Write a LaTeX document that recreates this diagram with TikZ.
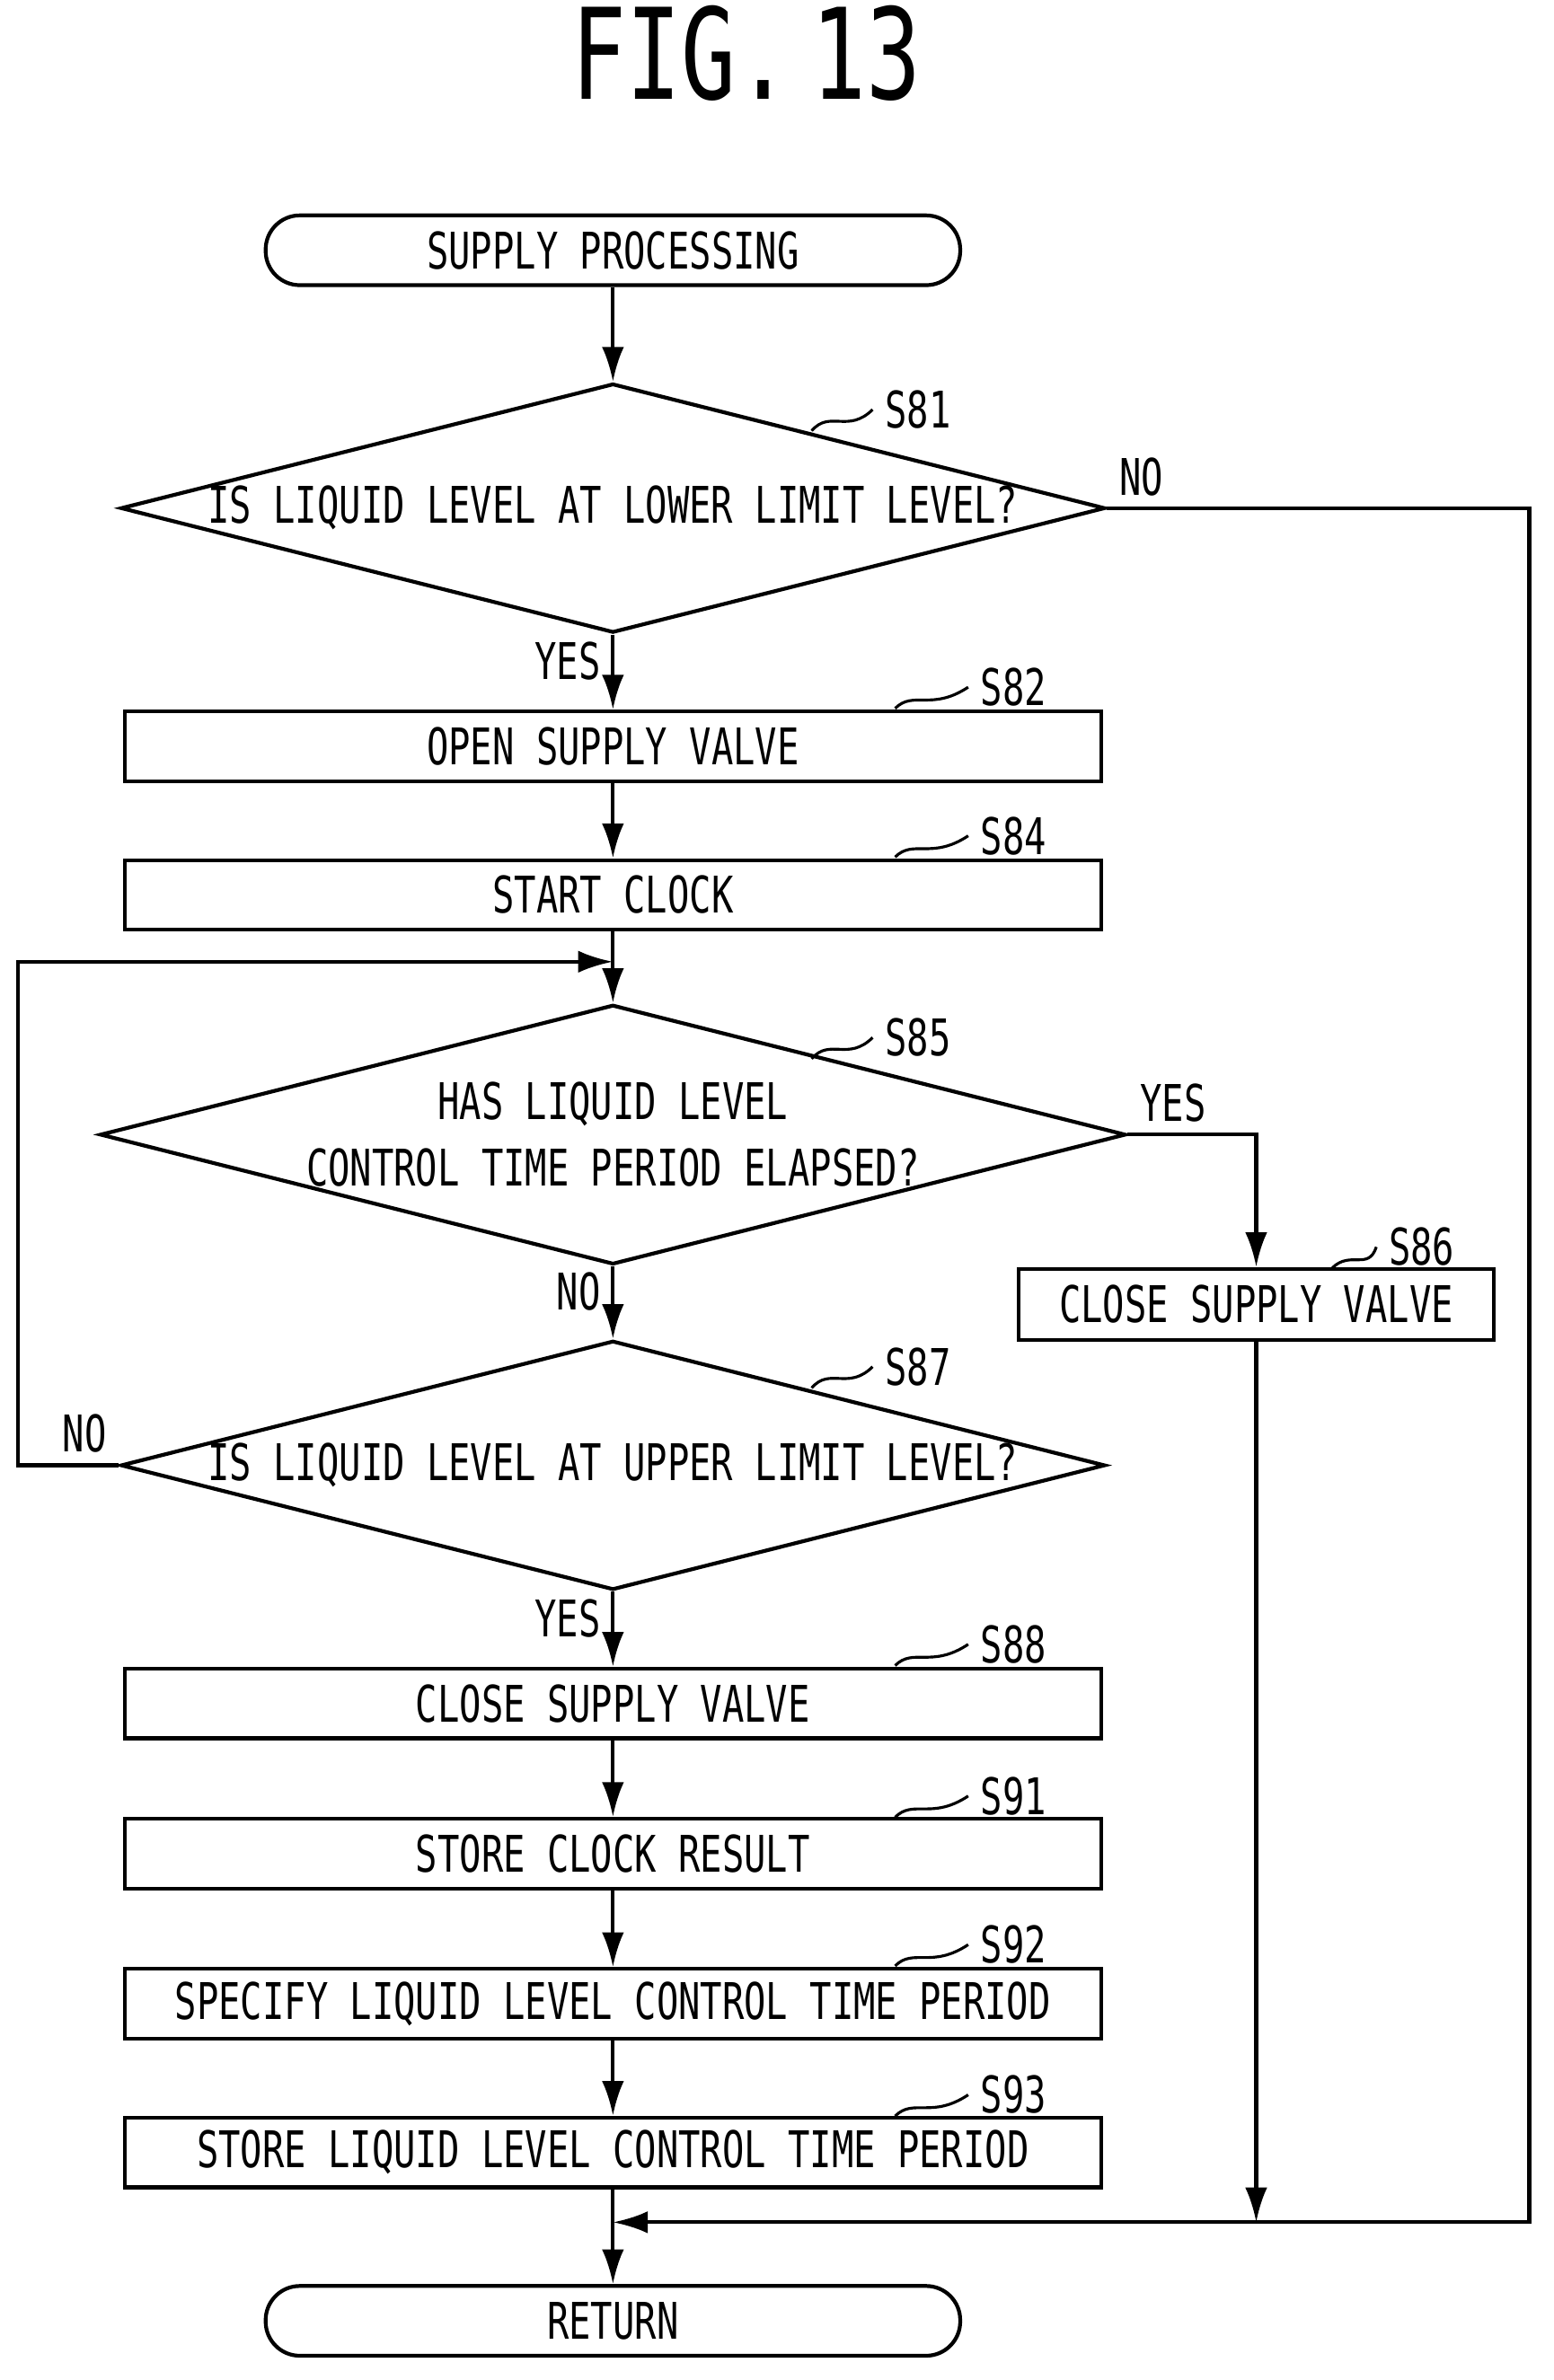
\documentclass[tikz,border=0pt]{standalone}
\usepackage{fontspec}
\setmainfont{DejaVu Sans Mono}[FakeStretch=0.72]
\usetikzlibrary{arrows.meta, shapes.geometric}

\begin{document}
\begin{tikzpicture}[x=0.016885cm, y=-0.016885cm, line width=1.2pt,
  every node/.style={font=\fontsize{16}{21}\selectfont},
  term/.style={draw, rounded corners=0.38cm, minimum width=7.733cm, minimum height=0.777cm, inner sep=0},
  box/.style={draw, minimum width=10.874cm, minimum height=0.777cm, inner sep=0},
  dec/.style={draw, diamond, aspect=3.95, minimum width=10.874cm, minimum height=2.752cm, inner sep=0, align=center},
  arr/.style={-{Latex[length=11pt, width=7pt]}}]
\useasboundingbox (0,0) rectangle (1024,1569);

\node[font=\fontsize{40}{44}\selectfont] (T) at (492,35) {FIG.\,13};

\node[term] (A) at (404,165) {SUPPLY PROCESSING};
\node[dec] (S81) at (404,335) {IS LIQUID LEVEL AT LOWER LIMIT LEVEL?};
\node[box] (S82) at (404,492) {OPEN SUPPLY VALVE};
\node[box] (S84) at (404,590) {START CLOCK};
\node[dec] (S85) at (404,748) {HAS LIQUID LEVEL\\CONTROL TIME PERIOD ELAPSED?};
\node[draw, minimum width=5.285cm, minimum height=0.794cm, inner sep=0] (S86) at (828,860) {CLOSE SUPPLY VALVE};
\node[dec] (S87) at (404,966) {IS LIQUID LEVEL AT UPPER LIMIT LEVEL?};
\node[box] (S88) at (404,1123) {CLOSE SUPPLY VALVE};
\node[box] (S91) at (404,1222) {STORE CLOCK RESULT};
\node[box] (S92) at (404,1321) {SPECIFY LIQUID LEVEL CONTROL TIME PERIOD};
\node[box] (S93) at (404,1419) {STORE LIQUID LEVEL CONTROL TIME PERIOD};
\node[term] (R) at (404,1530) {RETURN};

\coordinate (M1) at (404,634);
\coordinate (M2) at (404,1465);

% main flow
\draw[arr] (A) -- (S81);
\draw[arr] (S81) -- node[left, pos=0.35] {YES\ } (S82);
\draw[arr] (S82) -- (S84);
\draw (S84) -- (M1);
\draw[arr] (M1) -- (S85);
\draw[arr] (S85) -- node[left, pos=0.35] {NO\ } (S87);
\draw[arr] (S87) -- node[left, pos=0.35] {YES\ } (S88);
\draw[arr] (S88) -- (S91);
\draw[arr] (S91) -- (S92);
\draw[arr] (S92) -- (S93);
\draw[arr] (S93) -- (R);

% branches
\draw[arr] (S81.east) node[above right] {NO} -- (1008,335) -- (1008,1465) -- (M2);
\draw[arr] (S85.east) node[above right] {YES} -| (S86.north);
\draw[arr] (S86.south) -- (828,1465);
\draw[arr] (S87.west) node[above left] {NO} -- (12,966) -- (12,634) -- (M1);

% step labels
\node (L81) at (605,270) {S81};
\node (L82) at (668,453) {S82};
\node (L84) at (668,551) {S84};
\node (L85) at (605,684) {S85};
\node (L86) at (937,822) {S86};
\node (L87) at (605,901) {S87};
\node (L88) at (668,1084) {S88};
\node (L91) at (668,1184) {S91};
\node (L92) at (668,1282) {S92};
\node (L93) at (668,1381) {S93};
\foreach \n/\x/\y in {81/535/284, 85/535/698, 87/535/915}
  \draw[line width=0.9pt] (\x,\y) .. controls (\x+12,\y-14) and (\x+24,\y+2) .. (L\n.west);
\foreach \n/\x/\y in {82/590/467, 84/590/565, 88/590/1098, 91/590/1198, 92/590/1296, 93/590/1395, 86/878/836}
  \draw[line width=0.9pt] (\x,\y) .. controls (\x+12,\y-12) and (\x+24,\y+2) .. (L\n.west);
\end{tikzpicture}
\end{document}
